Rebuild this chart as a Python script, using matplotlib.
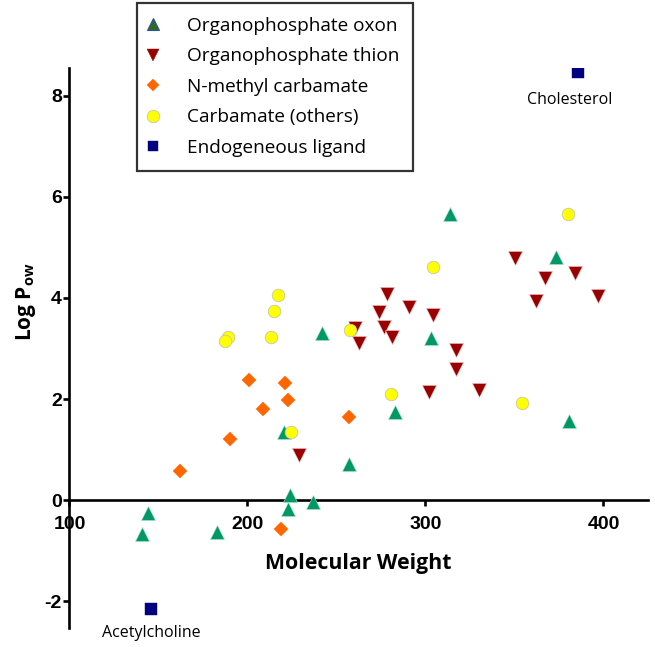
import matplotlib
matplotlib.use("Agg")
import matplotlib.pyplot as plt
from matplotlib.lines import Line2D

plt.rcParams["axes.unicode_minus"] = False
plt.rcParams["mathtext.default"] = "regular"

# ---- data ----
oxon_mw = [140.9, 144.3, 183.0, 220.5, 223.9, 222.9, 237.0, 242.0, 257.2, 282.9, 303.1, 313.9, 373.1, 380.4]
oxon_logp = [-0.67, -0.26, -0.63, 1.35, 0.10, -0.18, -0.03, 3.31, 0.71, 1.75, 3.20, 5.66, 4.82, 1.56]

thion_mw = [228.9, 260.4, 262.8, 274.0, 276.9, 278.2, 281.0, 290.9, 302.0, 304.0, 317.0, 317.0, 330.0, 350.1, 362.2, 367.3, 384.0, 397.1]
thion_logp = [0.89, 3.40, 3.10, 3.73, 3.43, 4.08, 3.22, 3.82, 2.13, 3.66, 2.98, 2.59, 2.18, 4.80, 3.93, 4.40, 4.49, 4.03]

nmc_mw = [162.1, 190.2, 201.0, 208.9, 221.1, 222.9, 257.2, 219.0]
nmc_logp = [0.57, 1.21, 2.38, 1.80, 2.32, 1.98, 1.64, -0.58]

carb_mw = [217.0, 215.1, 189.2, 187.4, 213.4, 257.6, 280.6, 224.6, 304.2, 379.9, 354.0]
carb_logp = [4.06, 3.75, 3.22, 3.15, 3.23, 3.37, 2.09, 1.34, 4.61, 5.66, 1.93]

endo_names = ["Cholesterol", "Acetylcholine"]
endo_mw = [385.7, 145.8]
endo_logp = [8.48, -2.16]

legend_labels = ["Organophosphate oxon", "Organophosphate thion", "N-methyl carbamate",
                 "Carbamate (others)", "Endogeneous ligand"]
x_ticks = [100, 200, 300, 400]
y_ticks = [-2, 0, 2, 4, 6, 8]

# ---- figure ----
fig = plt.figure(figsize=(6.55, 6.47), dpi=100)
ax = fig.add_axes([0.1061, 0.0294, 0.8832, 0.8655])
ax.set_xlim(100, 425)
ax.set_ylim(-2.53, 8.55)

ax.plot(nmc_mw, nmc_logp, ls="none", marker="D", ms=7.2, mfc="#FF6600", mec="#FF6600", mew=0.3, zorder=3)
ax.plot(thion_mw, thion_logp, ls="none", marker="v", ms=9.5, mfc="#990000", mec="#F0C0C0", mew=0.4, zorder=3)
ax.plot(oxon_mw, oxon_logp, ls="none", marker="^", ms=9.5, mfc="#009966", mec="#B0E0D0", mew=0.4, zorder=4)
ax.plot(carb_mw, carb_logp, ls="none", marker="o", ms=9, mfc="#FFFF00", mec="#C8C8A0", mew=0.6, zorder=5)
ax.plot(endo_mw, endo_logp, ls="none", marker="s", ms=8.4, mfc="#000080", mec="#000080", mew=0.3, zorder=5)

offsets = {"Cholesterol": (-6, -20.5), "Acetylcholine": (0, -17)}
for name, x, y in zip(endo_names, endo_mw, endo_logp):
    ax.annotate(name, (x, y), xytext=offsets[name], textcoords="offset points",
                ha="center", va="center", fontsize=11.5, family="Open Sans")

for s in ["top", "right"]:
    ax.spines[s].set_visible(False)
ax.spines["bottom"].set_position(("data", 0))
for s in ["left", "bottom"]:
    ax.spines[s].set_linewidth(1.9)

ax.set_xticks(x_ticks)
ax.set_yticks(y_ticks)
ax.tick_params(axis="both", direction="out", length=4.5, width=1.9, labelsize=14)
ax.tick_params(axis="y", pad=1)
ax.tick_params(axis="x", pad=7)
for lab in ax.get_xticklabels() + ax.get_yticklabels():
    lab.set_fontweight("bold")
    lab.set_family("Liberation Sans")

ax.text(262.0, -1.25, "Molecular Weight", fontsize=15.3, fontweight="bold",
        family="Open Sans", ha="center", va="center")
ax.set_ylabel(r"Log P$_{ow}$", fontsize=15, fontweight="bold", family="Open Sans")
ax.yaxis.set_label_coords(-0.055, 0.582)

handles = [
    Line2D([], [], ls="none", marker="^", ms=9, mfc="#2E6B1E", mec="#3050A0", mew=0.8),
    Line2D([], [], ls="none", marker="v", ms=9, mfc="#990000", mec="#990000", mew=0.3),
    Line2D([], [], ls="none", marker="D", ms=6.5, mfc="#FF6600", mec="#FF6600", mew=0.3),
    Line2D([], [], ls="none", marker="o", ms=9, mfc="#FFFF00", mec="#C8C8A0", mew=0.6),
    Line2D([], [], ls="none", marker="s", ms=7.5, mfc="#000080", mec="#000080", mew=0.3),
]
leg = fig.legend(handles, legend_labels, loc="upper left", bbox_to_anchor=(137 / 655, 1 - 3 / 647),
                 prop={"family": "Open Sans", "size": 13.7}, frameon=True, fancybox=False,
                 edgecolor="black", borderpad=0.72, labelspacing=0.66, handletextpad=1.67,
                 handlelength=0.24, borderaxespad=0)
leg.get_frame().set_linewidth(1.6)

fig.savefig("out.png", dpi=100)
